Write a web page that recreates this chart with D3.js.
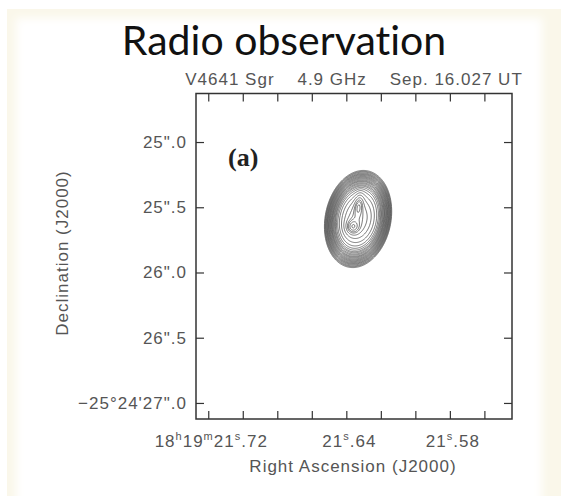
<!DOCTYPE html>
<html>
<head>
<meta charset="utf-8">
<script src="https://cdn.jsdelivr.net/npm/d3@7"></script>
<style>
  body { margin: 0; background: #fff; }
</style>
</head>
<body>
<div id="chart"></div>
<script>
// axis ticks (RA in seconds of 18h19m, Dec in arcsec of -25d24m)
var ra_ticks = [21.72, 21.70, 21.68, 21.66, 21.64, 21.62, 21.60, 21.58, 21.56];
var ra_label_values = [21.72, 21.64, 21.58];
var ra_label_texts = ['18^h19^m21^s.72', '21^s.64', '21^s.58'];
var dec_ticks = [25.0, 25.5, 26.0, 26.5, 27.0];
var dec_labels = ['25".0', '25".5', '26".0', '26".5', '\u221225\u00b024\'27".0'];

// source model: gaussian components
var comp_ra   = [21.6332, 21.6328, 21.6363];
var comp_dec  = [25.59, 25.49, 25.65];
var comp_peak = [1.0, 0.6, 0.7];
var comp_maj  = [0.317, 0.12, 0.08];   // FWHM, arcsec
var comp_min  = [0.217, 0.05, 0.075];
var comp_pa   = [-12, -8, 0];           // degrees

// contour levels (fraction of envelope peak)
var levels = [0.02, 0.023, 0.026, 0.03, 0.034, 0.038, 0.043, 0.049, 0.055, 0.062,
  0.07, 0.08, 0.09, 0.1, 0.115, 0.13, 0.15, 0.17, 0.2, 0.24, 0.3, 0.4, 0.55,
  0.75, 0.95, 1.1, 1.3, 1.5];

var width = 561, height = 496;
var m_left = 196, m_right = 512, m_top = 93.5, m_bottom = 419;

var svg = d3.select('#chart').append('svg')
  .attr('width', width)
  .attr('height', height)
  .attr('font-family', '"Liberation Sans", Arial, sans-serif');

// cream slide background
var defs = svg.append('defs');
defs.append('filter').attr('id', 'soft')
  .attr('x', '-10%').attr('y', '-10%').attr('width', '120%').attr('height', '120%')
  .append('feGaussianBlur').attr('stdDeviation', 4);

svg.append('rect').attr('width', width).attr('height', height).attr('fill', '#fff');
svg.append('rect').attr('x', 7).attr('y', 9).attr('width', 560).attr('height', 500)
  .attr('fill', '#faf7ea');
svg.append('rect').attr('x', 16).attr('y', 18).attr('width', 526).attr('height', 500)
  .attr('fill', '#fff').attr('filter', 'url(#soft)');

// scales
var x = d3.scaleLinear().domain([21.7271, 21.5440]).range([m_left, m_right]);
var y = d3.scaleLinear().domain([24.628, 27.123]).range([m_top, m_bottom]);

// evaluate model on a pixel grid
var nx = Math.round(m_right - m_left), ny = Math.round(m_bottom - m_top);
var grid = new Array(nx * ny);
var cosd = Math.cos(25.4 * Math.PI / 180);
var k = 4 * Math.LN2;
for (var j = 0; j < ny; j++) {
  for (var i = 0; i < nx; i++) {
    var ra = x.invert(m_left + i + 0.5), dec = y.invert(m_top + j + 0.5);
    var v = 0;
    for (var c = 0; c < comp_ra.length; c++) {
      var dE = (ra - comp_ra[c]) * 15 * cosd;
      var dN = -(dec - comp_dec[c]);
      var pa = comp_pa[c] * Math.PI / 180;
      var u = dN * Math.cos(pa) + dE * Math.sin(pa);
      var w = -dN * Math.sin(pa) + dE * Math.cos(pa);
      v += comp_peak[c] * Math.exp(-k * (u * u / (comp_maj[c] * comp_maj[c]) + w * w / (comp_min[c] * comp_min[c])));
    }
    grid[j * nx + i] = v;
  }
}

var contours = d3.contours().size([nx, ny]).thresholds(levels)(grid);
var path = d3.geoPath(d3.geoIdentity().translate([m_left, m_top]));

svg.append('g')
  .selectAll('path')
  .data(contours)
  .enter()
  .append('path')
  .attr('d', path)
  .attr('fill', 'none')
  .attr('stroke', '#444')
  .attr('stroke-width', 0.7);

// ticks, all pointing inward
var tick_style = function(g) {
  g.select('.domain').remove();
  g.selectAll('.tick line').attr('stroke', '#333').attr('stroke-width', 1.2);
};
svg.append('g').attr('transform', 'translate(0,' + m_bottom + ')')
  .call(d3.axisBottom(x).tickValues(ra_ticks).tickSize(-8).tickFormat(''))
  .call(tick_style);
svg.append('g').attr('transform', 'translate(0,' + m_top + ')')
  .call(d3.axisTop(x).tickValues(ra_ticks).tickSize(-8).tickFormat(''))
  .call(tick_style);
svg.append('g').attr('transform', 'translate(' + m_left + ',0)')
  .call(d3.axisLeft(y).tickValues(dec_ticks).tickSize(-8).tickFormat(''))
  .call(tick_style);
svg.append('g').attr('transform', 'translate(' + m_right + ',0)')
  .call(d3.axisRight(y).tickValues(dec_ticks).tickSize(-8).tickFormat(''))
  .call(tick_style);

// frame
svg.append('rect')
  .attr('x', m_left).attr('y', m_top)
  .attr('width', m_right - m_left).attr('height', m_bottom - m_top)
  .attr('fill', 'none').attr('stroke', '#333').attr('stroke-width', 1.5);

// tick labels
var label_fill = '#555';
svg.selectAll('text.dec')
  .data(dec_ticks)
  .enter()
  .append('text')
  .attr('class', 'dec')
  .attr('x', m_left - 9)
  .attr('y', (d) => y(d) + 6)
  .attr('text-anchor', 'end')
  .attr('font-size', 17)
  .attr('letter-spacing', 1)
  .attr('fill', label_fill)
  .text((d, i) => dec_labels[i]);

var ra_text = svg.selectAll('text.ra')
  .data(ra_label_values)
  .enter()
  .append('text')
  .attr('class', 'ra')
  .attr('x', (d) => x(d) + 3)
  .attr('y', 447)
  .attr('text-anchor', 'middle')
  .attr('font-size', 17)
  .attr('letter-spacing', 1)
  .attr('fill', label_fill);

ra_text.each(function(d, i) {
  var t = d3.select(this);
  var parts = ra_label_texts[i].split('^');
  t.append('tspan').text(parts[0]);
  for (var p = 1; p < parts.length; p++) {
    t.append('tspan').attr('font-size', 11).attr('dy', -7).text(parts[p][0]);
    t.append('tspan').attr('dy', 7).text(parts[p].slice(1));
  }
});

// axis titles
svg.append('text')
  .attr('x', 353).attr('y', 472)
  .attr('text-anchor', 'middle')
  .attr('font-size', 17).attr('letter-spacing', 1)
  .attr('fill', label_fill)
  .text('Right Ascension (J2000)');

svg.append('text')
  .attr('transform', 'translate(68,253) rotate(-90)')
  .attr('text-anchor', 'middle')
  .attr('font-size', 17).attr('letter-spacing', 1)
  .attr('fill', label_fill)
  .text('Declination (J2000)');

// header line above the map
svg.append('text')
  .attr('x', 354).attr('y', 85)
  .attr('text-anchor', 'middle')
  .attr('font-size', 17).attr('letter-spacing', 1)
  .attr('fill', label_fill)
  .attr('xml:space', 'preserve')
  .text('V4641 Sgr    4.9 GHz    Sep. 16.027 UT');

// panel tag
svg.append('text')
  .attr('x', 228).attr('y', 166)
  .attr('font-family', '"Liberation Serif", "Times New Roman", serif')
  .attr('font-weight', 'bold')
  .attr('font-size', 26)
  .attr('fill', '#222')
  .text('(a)');

// slide title
svg.append('text')
  .attr('x', 284).attr('y', 55)
  .attr('text-anchor', 'middle')
  .attr('font-family', 'Lato, sans-serif')
  .attr('font-size', 41)
  .attr('fill', '#111')
  .style('font-variant-ligatures', 'none')
  .text('Radio observation');
</script>
</body>
</html>
